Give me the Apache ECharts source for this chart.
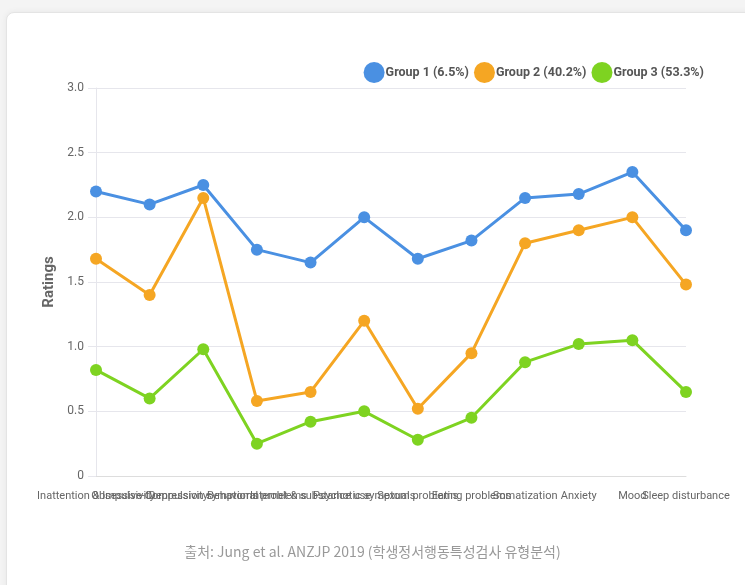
<!DOCTYPE html>
<html>
<head>
<meta charset="utf-8">
<script src="https://cdn.jsdelivr.net/npm/echarts@6/dist/echarts.min.js"></script>
<style>
  html, body { margin: 0; padding: 0; background: #f4f4f4; }
  #card {
    position: absolute; left: 6px; top: 12px; width: 800px; height: 640px;
    background: #fff; border: 1px solid #e4e4e4; border-radius: 8px;
    box-shadow: 0 0 6px rgba(0,0,0,0.06);
  }
  #chart { position: absolute; left: 0; top: 0; width: 745px; height: 585px; }
</style>
</head>
<body>
<div id="card"></div>
<div id="chart"></div>
<script>
var categories = ['Inattention & Impulsivity', 'Obsessive-Compulsivity', 'Depression symptoms',
    'Behavioral problems', 'Internet & substance use', 'Psychotic symptoms', 'Sexual problems',
    'Eating problems', 'Somatization', 'Anxiety', 'Mood', 'Sleep disturbance'];
var group1 = [2.20, 2.10, 2.25, 1.75, 1.65, 2.00, 1.68, 1.82, 2.15, 2.18, 2.35, 1.90];
var group2 = [1.68, 1.40, 2.15, 0.58, 0.65, 1.20, 0.52, 0.95, 1.80, 1.90, 2.00, 1.48];
var group3 = [0.82, 0.60, 0.98, 0.25, 0.42, 0.50, 0.28, 0.45, 0.88, 1.02, 1.05, 0.65];
var groupNames = ['Group 1 (6.5%)', 'Group 2 (40.2%)', 'Group 3 (53.3%)'];
var colors = ['#4a90e2', '#f5a623', '#7ed321'];

var chart = echarts.init(document.getElementById('chart'));

function makeSeries(name, data, color) {
    return {
        name: name,
        type: 'line',
        data: data,
        symbol: 'circle',
        symbolSize: 12,
        lineStyle: { width: 3, color: color },
        itemStyle: { color: color },
        emphasis: { disabled: true }
    };
}

var option = {
    backgroundColor: 'transparent',
    animation: false,
    textStyle: { fontFamily: 'Roboto, "Liberation Sans", sans-serif' },
    legend: {
        right: 36,
        top: 57,
        itemWidth: 21,
        itemHeight: 21,
        itemGap: 5,
        icon: 'circle',
        textStyle: { color: '#555', fontWeight: 'bold', fontSize: 12.5, padding: [0, 0, 0, -4] },
        data: groupNames
    },
    title: {
        text: '출처: Jung et al. ANZJP 2019 (학생정서행동특성검사 유형분석)',
        left: 'center',
        top: 540,
        textStyle: {
            color: '#999', fontSize: 14, fontWeight: 'normal',
            fontFamily: '"Liberation Sans Narrow", "Noto Sans CJK KR", sans-serif'
        }
    },
    grid: { left: 96, right: 59, top: 88, bottom: 109 },
    xAxis: {
        type: 'category',
        data: categories,
        boundaryGap: false,
        axisLine: { lineStyle: { color: '#ddd' } },
        axisTick: { show: false },
        axisLabel: {
            interval: 0,
            color: '#666',
            fontSize: 11,
            margin: 15,
            fontFamily: '"Liberation Sans Narrow", Roboto, sans-serif'
        },
        splitLine: { show: false }
    },
    yAxis: {
        type: 'value',
        min: 0,
        max: 3,
        interval: 0.5,
        name: 'Ratings',
        nameLocation: 'middle',
        nameGap: 33,
        nameTextStyle: { color: '#666', fontSize: 15, fontWeight: 'bold' },
        axisLine: { show: true, lineStyle: { color: '#e6e6ec' } },
        axisTick: { show: true, length: 8, lineStyle: { color: '#e6e6ec' } },
        axisLabel: {
            color: '#666',
            fontSize: 12,
            margin: 12,
            formatter: function (v) { return v === 0 ? '0' : v.toFixed(1); }
        },
        splitLine: { lineStyle: { color: '#e6e6ec' } }
    },
    series: [
        makeSeries(groupNames[0], group1, colors[0]),
        makeSeries(groupNames[1], group2, colors[1]),
        makeSeries(groupNames[2], group3, colors[2])
    ]
};

chart.setOption(option);
</script>
</body>
</html>
